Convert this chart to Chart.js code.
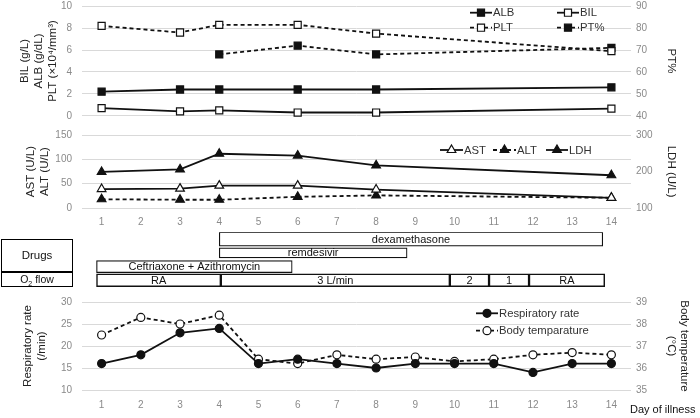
<!DOCTYPE html>
<html><head><meta charset="utf-8">
<script src="https://cdn.jsdelivr.net/npm/chart.js@4/dist/chart.umd.min.js"></script>
<style>
html,body{margin:0;padding:0;background:#fff;}
#wrap{position:relative;width:700px;height:418px;overflow:hidden;font-family:"Liberation Sans",Arial,sans-serif;}
.cv{position:absolute;left:0;width:700px;}
.box{position:absolute;box-sizing:border-box;border:1px solid #000;text-align:center;color:#111;}
</style></head><body>
<div id="wrap">
  <div class="cv" style="top:0;height:122px"><canvas id="c1"></canvas></div>
  <div class="cv" style="top:129px;height:99px"><canvas id="c2"></canvas></div>
  <div class="cv" style="top:230px;height:60px"><canvas id="c3"></canvas></div>
  <div class="cv" style="top:296px;height:115px"><canvas id="c4"></canvas></div>
  <div class="box" style="left:1px;top:239px;width:72px;height:33px;font-size:11.5px;line-height:31px;">Drugs</div>
  <div class="box" style="left:1px;top:272px;width:72px;height:15px;font-size:10.5px;line-height:13px;">O<sub style="font-size:7px;line-height:0">2</sub> flow</div>
  <div style="position:absolute;left:630px;top:402px;font-size:11px;line-height:14px;color:#111;white-space:nowrap;">Day of illness</div>
</div>
<script>
// ---------- data ----------
const days = ['1','2','3','4','5','6','7','8','9','10','11','12','13','14'];
// top panel
const alb   = [2.2, null, 2.4, 2.4, null, 2.4, null, 2.4, null, null, null, null, null, 2.6];
const bil   = [0.7, null, 0.4, 0.5, null, 0.3, null, 0.3, null, null, null, null, null, 0.65];
const plt   = [8.2, null, 7.6, 8.3, null, 8.3, null, 7.5, null, null, null, null, null, 5.9];
const ptPct = [null, null, null, 68, null, 72, null, 68, null, null, null, null, null, 71];
// middle panel
const ast = [39, null, 40, 46, null, 46, null, 38, null, null, null, null, null, 21];
const alt = [18, null, 17, 17, null, 23, null, 26, null, null, null, null, null, 21];
const ldh = [199, null, 206, 249, null, 244, null, 217, null, null, null, null, null, 190];
// bottom panel
const respRate = [16, 18, 23, 24, 16, 17, 16, 15, 16, 16, 16, 14, 16, 16];
const bodyTemp = [37.5, 38.3, 38.0, 38.4, 36.4, 36.2, 36.6, 36.4, 36.5, 36.3, 36.4, 36.6, 36.7, 36.6];
// treatment timeline (day spans)
const timelineRows = ['dexamethasone', 'remdesivir', 'antibiotics', 'O2 flow'];
const dexaSpan = [4, 13.78];
const remdesivirSpan = [4, 8.79];
const antibioticSpan = [0.87, 5.86];
const o2Labels = ['RA', '3 L/min', '2', '1', 'RA'];
const o2Starts = [0.87, 4.04, 9.88, 10.88, 11.9];
const o2Ends   = [4.04, 9.88, 10.88, 11.9, 13.83];

// ---------- common ----------
const FONT = '"Liberation Sans", Arial, sans-serif';
Chart.defaults.font.family = FONT;
Chart.defaults.animation = false;
Chart.defaults.events = [];
const TICK = '#8a8a8a', GRID = '#d9d9d9', TITLE = '#222';

function leftY(min, max, step, title, pad) {
  return { position: 'left', min, max,
    ticks: { stepSize: step, color: TICK, font: { size: 10 }, padding: 0 },
    grid: { color: GRID, lineWidth: 1, drawTicks: true, tickLength: 10, tickColor: 'rgba(0,0,0,0)' },
    border: { display: false },
    title: { display: true, text: title, color: TITLE, font: { size: 11.5, lineHeight: '14px' }, padding: { top: pad, bottom: 0 } },
    afterFit(s) { s.width = 82; } };
}
function rightY(min, max, step, title, pad) {
  return { position: 'right', min, max,
    ticks: { stepSize: step, color: TICK, font: { size: 10 }, padding: 0 },
    grid: { color: 'rgba(0,0,0,0)', drawOnChartArea: false, drawTicks: true, tickLength: 5, tickColor: 'rgba(0,0,0,0)' },
    border: { display: false },
    title: { display: true, text: title, color: TITLE, font: { size: 11.5, lineHeight: '13px' }, padding: { top: pad, bottom: 0 } },
    afterFit(s) { s.width = 69; } };
}
function xCat(show, tl) {
  return { type: 'category', offset: true, display: show,
    ticks: { color: TICK, font: { size: 10 }, padding: 0, maxRotation: 0, autoSkip: false },
    grid: { drawOnChartArea: false, drawTicks: true, tickLength: tl, tickColor: 'rgba(0,0,0,0)' },
    border: { display: false } };
}
function ds(label, data, opts) {
  return Object.assign({ label, data, borderColor: '#111', borderWidth: 1.8, spanGaps: true, clip: false,
    pointBorderColor: '#111', pointBorderWidth: 1.2, pointRadius: 4.5, tension: 0 }, opts);
}
const manualLegend = {
  id: 'manualLegend',
  afterDraw(chart, args, opts) {
    const ctx = chart.ctx;
    (opts.items || []).forEach(it => {
      const d = chart.data.datasets[it.ds];
      ctx.save();
      ctx.strokeStyle = d.borderColor; ctx.lineWidth = d.borderWidth;
      ctx.setLineDash(d.borderDash || []);
      ctx.beginPath(); ctx.moveTo(it.x, it.y); ctx.lineTo(it.x + it.w, it.y); ctx.stroke();
      ctx.setLineDash([]);
      ctx.fillStyle = d.pointBackgroundColor; ctx.strokeStyle = d.pointBorderColor; ctx.lineWidth = d.pointBorderWidth;
      Chart.helpers.drawPoint(ctx, { pointStyle: d.pointStyle, radius: d.pointRadius, rotation: 0, borderWidth: d.pointBorderWidth }, it.x + it.w / 2, it.y);
      ctx.fillStyle = '#333'; ctx.font = '11.3px ' + FONT; ctx.textBaseline = 'middle'; ctx.textAlign = 'left';
      ctx.fillText(d.label, it.x + it.w + 1, it.y + 0.5);
      ctx.restore();
    });
  }
};
Chart.register(manualLegend);
const basePlugins = { legend: { display: false }, tooltip: { enabled: false } };

// ---------- top panel ----------
new Chart(document.getElementById('c1'), {
  type: 'line',
  data: { labels: days, datasets: [
    ds('ALB', alb, { pointStyle: 'rect', pointRadius: 5, pointBackgroundColor: '#111', yAxisID: 'y' }),
    ds('BIL', bil, { pointStyle: 'rect', pointRadius: 5, pointBackgroundColor: '#fff', yAxisID: 'y' }),
    ds('PLT', plt, { pointStyle: 'rect', pointRadius: 5, pointBackgroundColor: '#fff', borderDash: [4, 3], yAxisID: 'y' }),
    ds('PT%', ptPct, { pointStyle: 'rect', pointRadius: 5, pointBackgroundColor: '#111', borderDash: [4, 3], yAxisID: 'y2' })
  ]},
  options: { responsive: true, maintainAspectRatio: false, layout: { padding: 0 },
    scales: { x: xCat(false, 0),
      y: leftY(0, 10, 2, ['BIL (g/L)', 'ALB (g/dL)', 'PLT (×10⁴/mm³)'], 18),
      y2: rightY(40, 90, 10, 'PT%', 22) },
    plugins: Object.assign({}, basePlugins, { manualLegend: { items: [
      { ds: 0, x: 470, w: 22, y: 12.7 }, { ds: 1, x: 557, w: 22, y: 12.7 },
      { ds: 2, x: 470, w: 22, y: 27.7 }, { ds: 3, x: 557, w: 22, y: 27.7 } ] } }) }
});

// ---------- middle panel ----------
new Chart(document.getElementById('c2'), {
  type: 'line',
  data: { labels: days, datasets: [
    ds('AST', ast, { pointStyle: 'triangle', pointRadius: 5, pointBackgroundColor: '#fff', yAxisID: 'y' }),
    ds('ALT', alt, { pointStyle: 'triangle', pointRadius: 5, pointBackgroundColor: '#111', borderDash: [4, 3], yAxisID: 'y' }),
    ds('LDH', ldh, { pointStyle: 'triangle', pointRadius: 5, pointBackgroundColor: '#111', yAxisID: 'y2' })
  ]},
  options: { responsive: true, maintainAspectRatio: false, layout: { padding: 0 },
    scales: { x: xCat(true, 8),
      y: leftY(0, 150, 50, ['AST (U/L)', 'ALT (U/L)'], 24),
      y2: rightY(100, 300, 100, 'LDH (U/L)', 22) },
    plugins: Object.assign({}, basePlugins, { manualLegend: { items: [
      { ds: 0, x: 440, w: 23, y: 21 }, { ds: 1, x: 493, w: 23, y: 21 }, { ds: 2, x: 546, w: 22, y: 21 } ] } }) }
});

// ---------- treatment timeline ----------
const barText = {
  id: 'barText',
  afterDatasetsDraw(chart) {
    const ctx = chart.ctx;
    ctx.save();
    ctx.fillStyle = '#111'; ctx.font = '11px ' + FONT; ctx.textAlign = 'center'; ctx.textBaseline = 'middle';
    chart.data.datasets.forEach((d, i) => {
      chart.getDatasetMeta(i).data.forEach((el, j) => {
        ctx.fillText(d.data[j].text, (el.x + el.base) / 2, el.y + 0.5);
      });
    });
    ctx.restore();
  }
};
function spanRow(row, spans, texts, thick, bw) {
  return { data: spans.map((s, k) => ({ y: row, x: s, text: texts[k] })), backgroundColor: '#fff',
    borderColor: '#111', borderWidth: bw, borderSkipped: false, barThickness: thick, grouped: false };
}
new Chart(document.getElementById('c3'), {
  type: 'bar',
  data: { labels: timelineRows, datasets: [
    spanRow(timelineRows[0], [dexaSpan], ['dexamethasone'], 14, 1.2),
    spanRow(timelineRows[1], [remdesivirSpan], ['remdesivir'], 10, 1.2),
    spanRow(timelineRows[2], [antibioticSpan], ['Ceftriaxone + Azithromycin'], 12, 1.2),
    spanRow(timelineRows[3], o2Starts.map((s, k) => [s, o2Ends[k]]), o2Labels, 13, 1.5)
  ]},
  options: { indexAxis: 'y', responsive: true, maintainAspectRatio: false,
    layout: { padding: { left: 82, right: 69, top: 2.3, bottom: 2.9 } },
    scales: { x: { type: 'linear', min: 0.5, max: 14.5, display: false },
      y: { type: 'category', offset: true, display: false } },
    plugins: basePlugins },
  plugins: [barText]
});

// ---------- bottom panel ----------
new Chart(document.getElementById('c4'), {
  type: 'line',
  data: { labels: days, datasets: [
    ds('Respiratory rate', respRate, { pointStyle: 'circle', pointRadius: 4, pointBackgroundColor: '#111', yAxisID: 'y' }),
    ds('Body temparature', bodyTemp, { pointStyle: 'circle', pointRadius: 4, pointBackgroundColor: '#fff', borderDash: [4, 3], yAxisID: 'y2' })
  ]},
  options: { responsive: true, maintainAspectRatio: false, layout: { padding: 0 },
    scales: { x: xCat(true, 9),
      y: leftY(10, 30, 5, ['Respiratory rate', '(/min)'], 21),
      y2: rightY(35, 39, 1, ['Body temperature', '(°C)'], 9.5) },
    plugins: Object.assign({}, basePlugins, { manualLegend: { items: [
      { ds: 0, x: 476, w: 22, y: 17.3 }, { ds: 1, x: 476, w: 22, y: 34.7 } ] } }) }
});
</script>
</body></html>
